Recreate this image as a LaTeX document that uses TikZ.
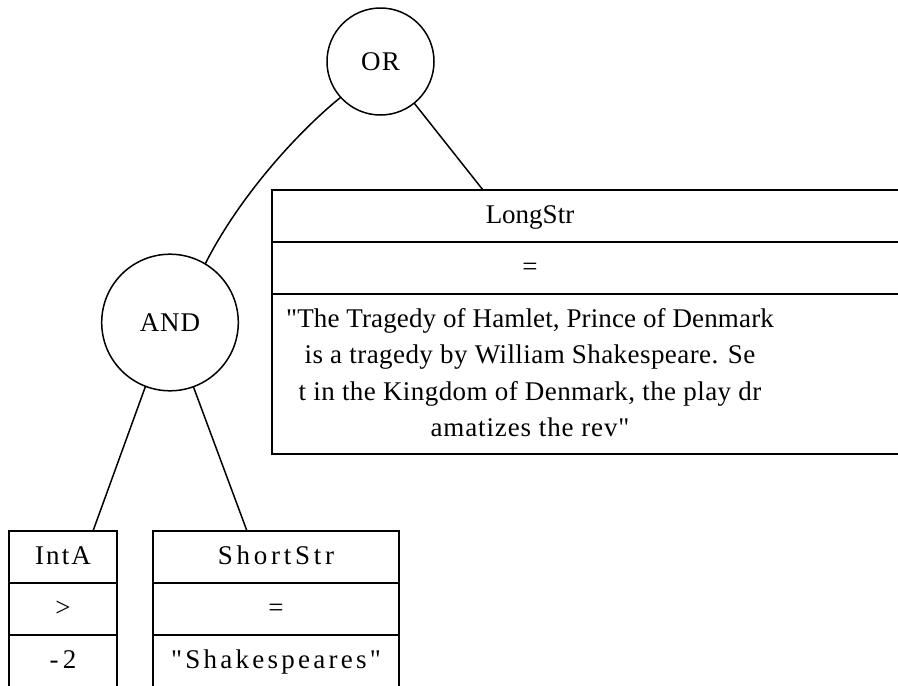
\documentclass[tikz,border=0pt]{standalone}
\usepackage{fontspec}
\setmainfont{Liberation Serif}[Ligatures=TeXOff]
% letter-spaced text: \lsp{amount}{text}
\newcommand{\lsp}[2]{{\addfontfeature{LetterSpace=#1}#2}}
\begin{document}
\begin{tikzpicture}[x=1pt,y=-1pt,
  edge/.style={line width=1.5pt},
  op/.style={circle,draw,line width=1.5pt,inner sep=0pt,outer sep=0pt,
    font=\fontsize{27}{36.6}\selectfont},
  cell/.style={rectangle,draw,line width=1.5pt,inner sep=0pt,outer sep=0pt,
    anchor=north west,minimum height=52},
  lbl/.style={anchor=base,inner sep=0pt,font=\fontsize{27}{36.6}\selectfont}]
\useasboundingbox (0,0) rectangle (898,686);

% operator nodes
\node[op,minimum size=107] (or) at (380.5,61.5) {\lsp{5}{OR}};
\node[op,minimum size=136.6] (and) at (170,322.5) {\lsp{3}{AND}};

% LongStr condition
\node[cell,minimum width=700] (lsh) at (272,190) {};
\node[cell,minimum width=700] (lso) at (272,242) {};
\node[cell,minimum width=700,minimum height=160] (lsv) at (272,294) {};
\node[lbl] (lsht) at (530,223.3) {LongStr};
\node[lbl] (lsot) at (530,275.3) {=};
\node[lbl] (lsv1) at (530,327) {\lsp{0.5}{"The Tragedy of Hamlet, Prince of Denmark}};
\node[lbl] (lsv2) at (530,363.6) {\lsp{1.6}{is a tragedy by William Shakespeare. Se}};
\node[lbl] (lsv3) at (530,400.2) {\lsp{1.6}{t in the Kingdom of Denmark, the play dr}};
\node[lbl] (lsv4) at (530,436.8) {\lsp{3.3}{amatizes the rev"}};

% IntA condition
\node[cell,minimum width=108] (ih) at (9,531) {};
\node[cell,minimum width=108] (io) at (9,583) {};
\node[cell,minimum width=108,minimum height=60] (iv) at (9,635) {};
\node[lbl] (iht) at (63,564.3) {\lsp{8}{IntA}};
\node[lbl] (iot) at (63,616.3) {>};
\node[lbl] (ivt) at (63,668.3) {\lsp{16}{-2}};

% ShortStr condition
\node[cell,minimum width=246] (sh) at (153,531) {};
\node[cell,minimum width=246] (so) at (153,583) {};
\node[cell,minimum width=246,minimum height=60] (sv) at (153,635) {};
\node[lbl] (sht) at (276,564.3) {\lsp{14}{ShortStr}};
\node[lbl] (sot) at (276,616.3) {=};
\node[lbl] (svt) at (276,668.3) {\lsp{12}{"Shakespeares"}};

% attachment points on the box tops
\coordinate (lsin) at (483,190);
\coordinate (iin) at (93,531);
\coordinate (sin) at (247,531);

% connectors
\draw[edge] (or.222) .. controls (300,130) and (240,195) .. (and.59.5);
\draw[edge] (or.309) -- (lsin);
\draw[edge] (and.249.6) -- (iin);
\draw[edge] (and.290.4) -- (sin);
\end{tikzpicture}
\end{document}
